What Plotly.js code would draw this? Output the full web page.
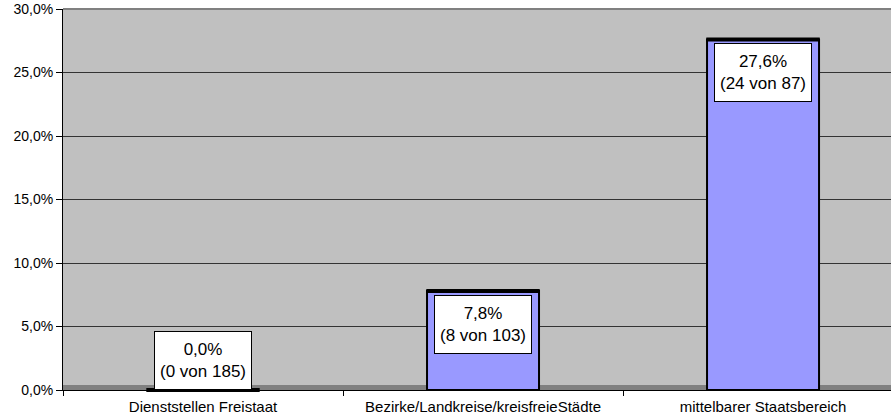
<!DOCTYPE html>
<html>
<head>
<meta charset="utf-8">
<script src="https://cdn.plot.ly/plotly-3.0.1.min.js"></script>
<style>html,body{margin:0;padding:0;background:#fff;}#chart{width:891px;height:418px;}</style>
</head>
<body>
<div id="chart"></div>
<script>
const categories = ["Dienststellen Freistaat", "Bezirke/Landkreise/kreisfreieStädte", "mittelbarer Staatsbereich"];
const percentValues = [0.0, 7.8, 27.6];
const counts = [0, 8, 24];
const totals = [185, 103, 87];
const yTickValues = [0, 5, 10, 15, 20, 25, 30];

const fmt = v => v.toFixed(1).replace('.', ',') + '%';
const yTickText = yTickValues.map(fmt);
const labels = percentValues.map((v, i) => fmt(v) + '<br>(' + counts[i] + ' von ' + totals[i] + ')');

const font = 'Arial, "Liberation Sans", sans-serif';

const bars = {
  type: 'bar',
  x: categories,
  y: percentValues,
  width: 0.4,
  marker: {color: '#9999FF', line: {color: '#000000', width: 2}},
  hoverinfo: 'skip'
};
const tops = {
  type: 'scatter',
  mode: 'markers',
  x: categories,
  y: percentValues,
  marker: {symbol: 'line-ew', size: 81, line: {color: '#000000', width: 4}},
  hoverinfo: 'skip',
  cliponaxis: false
};

const annotations = categories.map((c, i) => {
  const zero = percentValues[i] === 0;
  return {
    x: c, y: percentValues[i], xref: 'x', yref: 'y',
    text: labels[i], showarrow: false,
    yanchor: zero ? 'bottom' : 'top',
    yshift: zero ? 0 : -4,
    width: 90, height: 51,
    bgcolor: '#FFFFFF', bordercolor: '#000000', borderwidth: 1, borderpad: 3,
    font: {family: font, size: 17, color: '#000000'}
  };
});

const layout = {
  width: 891, height: 418,
  margin: {l: 63, r: 0, t: 9, b: 28, pad: 0},
  paper_bgcolor: '#FFFFFF',
  plot_bgcolor: '#C0C0C0',
  showlegend: false,
  xaxis: {
    type: 'category',
    range: [-0.5, 2.457],
    showline: true, linecolor: '#000000', linewidth: 1,
    ticks: 'outside', tickson: 'boundaries', ticklen: 5, tickcolor: '#000000',
    ticklabelstandoff: 3,
    showgrid: false, zeroline: false,
    tickfont: {family: font, size: 15, color: '#000000'},
    fixedrange: true
  },
  yaxis: {
    range: [0, 30],
    tickvals: yTickValues,
    ticktext: yTickText,
    showline: true, linecolor: '#000000', linewidth: 1,
    ticks: 'outside', ticklen: 6, tickcolor: '#000000',
    showgrid: true, gridcolor: '#333333', gridwidth: 1,
    zeroline: false,
    tickfont: {family: font, size: 14, color: '#000000'},
    fixedrange: true
  },
  shapes: [
    {type: 'line', xref: 'paper', yref: 'paper', x0: 0, x1: 1, y0: 1, y1: 1, line: {color: '#808080', width: 2}, layer: 'above'},
    {type: 'rect', xref: 'paper', yref: 'y', ysizemode: 'pixel', yanchor: 0, y0: 0, y1: 5, x0: 0, x1: 1, fillcolor: '#808080', line: {width: 0}, layer: 'below'}
  ],
  annotations: annotations
};

Plotly.newPlot('chart', [bars, tops], layout, {displayModeBar: false, staticPlot: true});
</script>
</body>
</html>
